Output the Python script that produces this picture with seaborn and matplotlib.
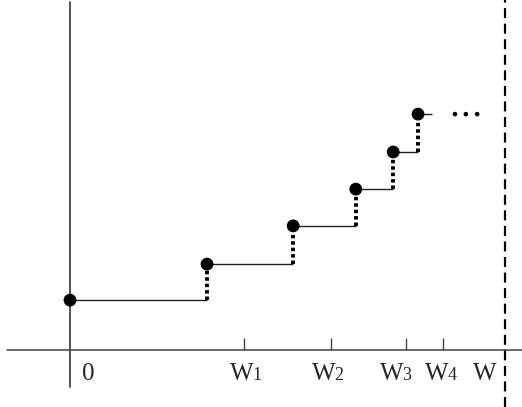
import numpy as np
import pandas as pd
import matplotlib
matplotlib.use("Agg")
import matplotlib.pyplot as plt
import seaborn as sns

# step points (x in units where W = 10, y in arbitrary units)
step_x = [0.0, 3.15, 5.13, 6.57, 7.43, 8.0]
step_y = [1.33, 2.29, 3.31, 4.29, 5.28, 6.29]
tail_x = 8.32
ellipsis_x = [8.85, 9.10, 9.36]

tick_pos = [4.0, 6.0, 7.72, 8.57]
tick_digits = ["1", "2", "3", "4"]
label_x = [3.68, 5.56, 7.13, 8.16]
w_pos = 10.0

sns.set_style("white")
serif = "Liberation Serif"

fig = plt.figure(figsize=(5.22, 4.07), dpi=100)
ax = fig.add_axes([0, 0, 1, 1])
ax.set_xlim(-70 / 43.5, 452 / 43.5)
ax.set_ylim(-57 / 37.5, 350 / 37.5)
ax.axis("off")

# axes lines
ax.plot([-1.45, 10.4], [0, 0], color="#444444", lw=1.1)
ax.plot([0, 0], [-0.99, 9.28], color="#444444", lw=1.3)
ax.vlines(tick_pos, 0, 0.32, color="#444444", lw=1.0)
ax.axvline(w_pos, color="black", lw=1.6, ls=(0, (4.5, 2.5)))

# horizontal steps and dotted risers
xs_end = step_x[1:] + [tail_x]
ax.hlines(step_y, step_x, xs_end, color="#222222", lw=1.0)
ax.vlines(step_x[1:], step_y[:-1], step_y[1:], color="black", lw=2.8,
          ls=(0, (0.9, 0.75)))

pts = pd.DataFrame({"x": step_x, "y": step_y})
sns.scatterplot(data=pts, x="x", y="y", ax=ax, s=85, color="black",
                edgecolor="none", zorder=5)
dots = pd.DataFrame({"x": ellipsis_x, "y": [step_y[-1]] * len(ellipsis_x)})
sns.scatterplot(data=dots, x="x", y="y", ax=ax, s=11, color="black",
                edgecolor="none", zorder=5)

# labels
base_y = -0.8
ax.text(0.28, base_y, "0", fontsize=18, family=serif, va="baseline")
for lx, d in zip(label_x, tick_digits):
    ax.text(lx, base_y, "W", fontsize=18, family=serif, va="baseline")
    ax.annotate(d, xy=(lx, base_y), xytext=(16, 0), textcoords="offset points",
                fontsize=13, family=serif, va="baseline")
ax.text(9.26, base_y, "W", fontsize=18, family=serif, va="baseline")

fig.savefig("out.png", dpi=100)
